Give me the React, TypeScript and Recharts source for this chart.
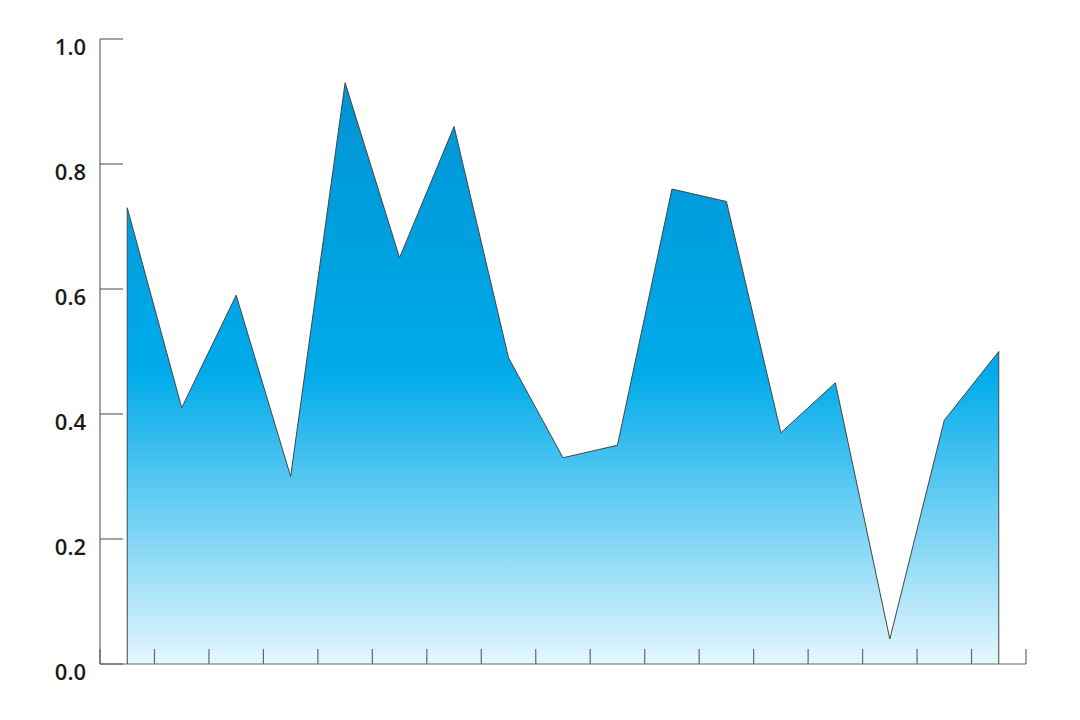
import { AreaChart, Area, XAxis, YAxis, ReferenceLine } from 'recharts';

const values = [
  0.73, 0.41, 0.59, 0.3, 0.93, 0.65, 0.86, 0.49, 0.33,
  0.35, 0.76, 0.74, 0.37, 0.45, 0.04, 0.39, 0.5,
];
const yTicks = [0, 0.2, 0.4, 0.6, 0.8, 1.0];

const data = values.map((v, i) => ({ idx: i, value: v }));
// tick marks sit between the points, like band edges
const xTicks = [-0.5, ...values.map((_, i) => i + 0.5)];
const last = values.length - 1;

function YTick({ x, y, payload }: { x: number; y: number; payload: { value: number } }) {
  return (
    <g>
      <line x1={x} y1={y} x2={x + 23} y2={y} stroke="#666" strokeWidth={1.2} />
      <text
        x={x - 14}
        y={y}
        dy={16}
        textAnchor="end"
        fill="#1a1a1a"
        fontSize={22}
        fontWeight={600}
        fontFamily="'Open Sans', sans-serif"
      >
        {payload.value.toFixed(1)}
      </text>
    </g>
  );
}

export default function App() {
  return (
    <div style={{ position: 'absolute', left: 0, top: 0, background: '#fff' }}>
      <AreaChart
        width={1080}
        height={720}
        data={data}
        margin={{ top: 39, right: 54, left: 0, bottom: 56 }}
      >
        <defs>
          <linearGradient id="areaFill" x1="0" y1="0" x2="0" y2="1">
            <stop offset="0%" stopColor="#0093d3" />
            <stop offset="50%" stopColor="#00abea" />
            <stop offset="100%" stopColor="#e4f7fe" />
          </linearGradient>
        </defs>
        <XAxis
          dataKey="idx"
          type="number"
          domain={[-0.5, last + 0.5]}
          ticks={[...xTicks]}
          interval={0}
          height={1}
          mirror
          tickSize={15}
          tickFormatter={() => ''}
          axisLine={{ stroke: '#666', strokeWidth: 1.2 }}
          tickLine={{ stroke: '#666', strokeWidth: 1.2 }}
        />
        <YAxis
          domain={[0, 1]}
          ticks={yTicks}
          width={100}
          tickSize={0}
          tickMargin={0}
          tickLine={false}
          tick={YTick as any}
          axisLine={{ stroke: '#666', strokeWidth: 1.2 }}
        />
        <Area
          type="linear"
          dataKey="value"
          stroke="#444"
          strokeWidth={1}
          fill="url(#areaFill)"
          fillOpacity={1}
          dot={false}
          activeDot={false}
          isAnimationActive={false}
        />
        <ReferenceLine
          segment={[{ x: 0, y: 0 }, { x: 0, y: values[0] }]}
          stroke="#444"
          strokeWidth={1}
        />
        <ReferenceLine
          segment={[{ x: last, y: 0 }, { x: last, y: values[last] }]}
          stroke="#444"
          strokeWidth={1}
        />
      </AreaChart>
    </div>
  );
}
